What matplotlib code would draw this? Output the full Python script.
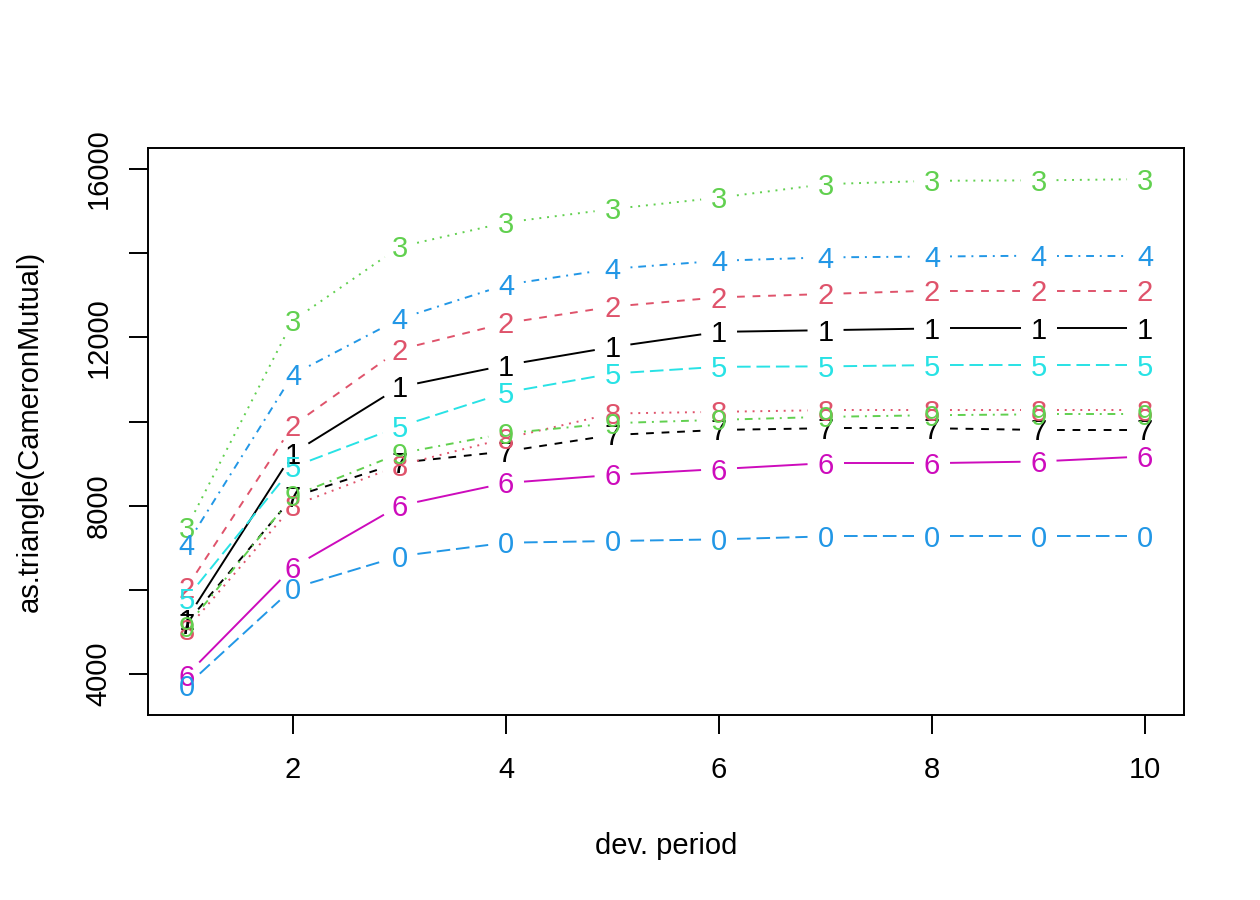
import matplotlib
matplotlib.use('Agg')
import matplotlib.pyplot as plt
from matplotlib import transforms
import numpy as np

plt.rcParams['font.family'] = ['Liberation Sans', 'DejaVu Sans']

# development periods and origin labels (R cycles pch 1..9, 0)
dev = np.arange(1, 11)
origin_labels = ['1', '2', '3', '4', '5', '6', '7', '8', '9', '0']

# cumulative values, one list per origin year
orig1 = [5300, 9250, 10820, 11340, 11770, 12130, 12170, 12210, 12210, 12210]
orig2 = [6050, 9910, 11710, 12340, 12730, 12950, 13030, 13110, 13110, 13110]
orig3 = [7470, 12400, 14150, 14730, 15050, 15320, 15640, 15720, 15730, 15760]
orig4 = [7070, 11120, 12440, 13250, 13630, 13820, 13900, 13920, 13940, 13940]
orig5 = [5800, 8920, 9880, 10690, 11140, 11300, 11310, 11340, 11340, 11340]
orig6 = [3970, 6540, 8000, 8540, 8730, 8870, 9010, 9010, 9050, 9170]
orig7 = [5210, 8210, 9020, 9290, 9680, 9800, 9840, 9840, 9800, 9800]
orig8 = [5060, 8000, 8960, 9600, 10190, 10230, 10270, 10270, 10270, 10270]
orig9 = [5130, 8230, 9240, 9720, 9960, 10040, 10110, 10150, 10170, 10170]
orig10 = [3720, 6040, 6800, 7120, 7160, 7200, 7270, 7270, 7270, 7270]
triangle = [orig1, orig2, orig3, orig4, orig5, orig6, orig7, orig8, orig9, orig10]

# R palette and lty cycles used by matplot
palette = ['black', '#DF536B', '#61D04F', '#2297E6', '#28E2E5', '#CD0BBC']
lty = ['-', (0, (4, 4)), (0, (1, 3)), (0, (1, 3, 4, 3)), (0, (7, 3))]

fs = 21
lw = 1.4
gap = 18  # pixels kept free around each label

fig = plt.figure(figsize=(12.6, 9), dpi=100)
ax = fig.add_axes([148 / 1260, 1 - 715 / 900, (1184 - 148) / 1260, (715 - 148) / 900])
ax.set_xlim(0.638, 10.366)
ax.set_ylim(3026, 16499)

to_px = ax.transData
to_data = ax.transData.inverted()
label_tr = transforms.offset_copy(ax.transData, fig=fig, y=-0.358 * fs, units='points')

for i, vals in enumerate(triangle):
    col = palette[i % 6]
    ls = lty[i % 5]
    pts = to_px.transform(np.column_stack([dev, vals]))
    for k in range(len(pts) - 1):
        p0, p1 = pts[k], pts[k + 1]
        d = np.hypot(*(p1 - p0))
        if d <= 2 * gap:
            continue
        u = (p1 - p0) / d
        seg = to_data.transform(np.array([p0 + gap * u, p1 - gap * u]))
        ax.plot(seg[:, 0], seg[:, 1], color=col, linestyle=ls, linewidth=lw,
                dash_capstyle='butt', solid_capstyle='butt')
    for x, y in zip(dev, vals):
        ax.text(x, y, origin_labels[i], color=col, fontsize=fs,
                ha='center', va='baseline', transform=label_tr)

for s in ax.spines.values():
    s.set_linewidth(lw)

ax.set_xticks([2, 4, 6, 8, 10])
ax.set_xticklabels(['2', '4', '6', '8', '10'])
yt = [4000, 6000, 8000, 10000, 12000, 14000, 16000]
ax.set_yticks(yt)
ax.set_yticklabels(['4000', '', '8000', '', '12000', '', '16000'], rotation=90, va='center')
ax.tick_params(direction='out', length=13.7, width=lw, labelsize=fs)
ax.tick_params(axis='x', pad=16)
ax.tick_params(axis='y', pad=12)

fig.text(666 / 1260, 1 - 846 / 900, 'dev. period', ha='center', va='center', fontsize=fs)
fig.text(29.5 / 1260, 1 - 431 / 900, 'as.triangle(CameronMutual)', rotation=90,
         ha='center', va='center', fontsize=fs)

fig.savefig('out.png', dpi=100)
